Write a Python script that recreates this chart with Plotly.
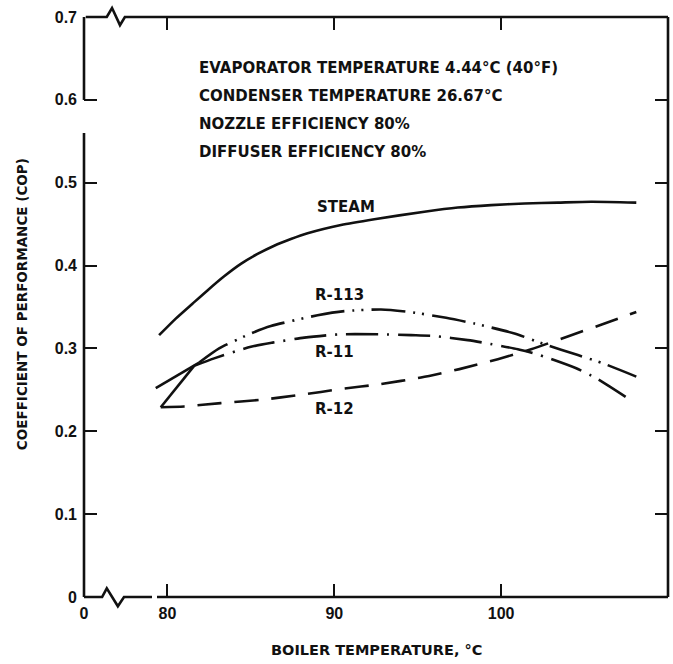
import plotly.graph_objects as go

# Boiler temperature (deg C) against coefficient of performance for each working fluid
STEAM_T = [79.5, 80.5, 81.5, 82.4, 83.4, 84.4, 85.4, 86.4, 87.4, 88.4, 90.4, 92.4, 95.4, 97.4, 99.4, 101.4, 103.4, 105.4, 108.1]
STEAM_COP = [0.316, 0.336, 0.354, 0.370, 0.387, 0.402, 0.414, 0.424, 0.432, 0.439, 0.449, 0.456, 0.465, 0.470, 0.473, 0.475, 0.476, 0.477, 0.476]

R113_T = [79.3, 81.9, 83.1, 85.0, 86.2, 89.0, 90.6, 92.8, 94.5, 96.7, 98.4, 100.8, 102.6, 104.6, 106.1, 108.1]
R113_COP = [0.252, 0.283, 0.300, 0.318, 0.327, 0.340, 0.345, 0.347, 0.344, 0.337, 0.330, 0.318, 0.305, 0.292, 0.282, 0.266]

R11_T = [79.6, 81.6, 82.8, 85.0, 86.3, 88.2, 90.3, 92.8, 94.6, 96.0, 98.0, 99.2, 101.0, 102.3, 104.5, 105.7, 107.8]
R11_COP = [0.229, 0.279, 0.288, 0.302, 0.307, 0.313, 0.317, 0.317, 0.316, 0.315, 0.310, 0.306, 0.299, 0.292, 0.276, 0.264, 0.237]

R12_T = [79.6, 81.0, 83.2, 85.6, 88.0, 90.4, 92.8, 95.2, 97.5, 99.8, 101.8, 104.2, 106.2, 108.1]
R12_COP = [0.229, 0.230, 0.234, 0.238, 0.244, 0.251, 0.257, 0.265, 0.275, 0.287, 0.299, 0.316, 0.330, 0.344]

# Axis ticks; the x axis is broken between 0 and 80
X_TICKS = [75, 80, 90, 100]
X_TICK_TEXT = ["0", "80", "90", "100"]
Y_TICKS = [0, 0.1, 0.2, 0.3, 0.4, 0.5, 0.6, 0.7]
Y_TICK_TEXT = ["0", "0.1", "0.2", "0.3", "0.4", "0.5", "0.6", "0.7"]
X_RANGE = [75, 110]
Y_RANGE = [0, 0.7]

CONDITIONS = [
    "EVAPORATOR TEMPERATURE 4.44°C (40°F)",
    "CONDENSER TEMPERATURE 26.67°C",
    "NOZZLE EFFICIENCY 80%",
    "DIFFUSER EFFICIENCY 80%",
]

INK = "#111111"
FONT = "DejaVu Sans"
LW = 2.6

fig = go.Figure()

# Steam: solid curve
fig.add_trace(go.Scatter(x=STEAM_T, y=STEAM_COP, mode="lines",
                         line=dict(color=INK, width=LW, shape="spline", smoothing=0.6)))

# R-113: solid lead-in, then dash-dot-dot
fig.add_trace(go.Scatter(x=R113_T[:2], y=R113_COP[:2], mode="lines",
                         line=dict(color=INK, width=LW)))
fig.add_trace(go.Scatter(x=R113_T[1:], y=R113_COP[1:], mode="lines",
                         line=dict(color=INK, width=LW, shape="spline", smoothing=0.6,
                                   dash="34px,8px,2px,7px,2px,8px")))

# R-11: solid lead-in, then dash-dot
fig.add_trace(go.Scatter(x=R11_T[:2], y=R11_COP[:2], mode="lines",
                         line=dict(color=INK, width=LW)))
fig.add_trace(go.Scatter(x=R11_T[1:], y=R11_COP[1:], mode="lines",
                         line=dict(color=INK, width=LW, shape="spline", smoothing=0.6,
                                   dash="32px,9px,2px,9px")))

# R-12: dashed
fig.add_trace(go.Scatter(x=R12_T, y=R12_COP, mode="lines",
                         line=dict(color=INK, width=LW, shape="spline", smoothing=0.6,
                                   dash="24px,13px")))

# Frame drawn by hand so the axis breaks can be shown
def seg(pts):
    path = "M " + " L ".join(f"{x},{y}" for x, y in pts)
    return dict(type="path", path=path, xref="x domain", yref="y domain",
                line=dict(color=INK, width=2.6), layer="above")

shapes = [
    # bottom axis with zigzag break
    seg([(0, 0), (0.031, 0), (0.039, 0.015), (0.058, -0.016), (0.0685, 0), (0.1164, 0)]),
    seg([(0.125, 0), (1, 0)]),
    # top axis with zigzag break
    seg([(0.003, 1), (0.039, 1), (0.048, 1.0155), (0.0616, 0.986), (0.070, 1), (1, 1)]),
    # left axis with gap below 0.6
    seg([(0, 0), (0, 0.80)]),
    seg([(0, 0.857), (0, 1)]),
    # right axis
    seg([(1, 0), (1, 1)]),
]

annotations = []
for i, txt in enumerate(CONDITIONS):
    annotations.append(dict(text="<b>" + txt + "</b>", x=0.1935, y=[0.912, 0.864, 0.815, 0.767][i],
                            xref="paper", yref="paper", xanchor="left", yanchor="middle",
                            showarrow=False, font=dict(family=FONT, size=15, color=INK)))

curve_labels = [("STEAM", 0.3955, 0.673), ("R-113", 0.392, 0.520),
                ("R-11", 0.392, 0.423), ("R-12", 0.392, 0.3245)]
for txt, x, y in curve_labels:
    annotations.append(dict(text="<b>" + txt + "</b>", x=x, y=y, xref="paper", yref="paper",
                            xanchor="left", yanchor="middle", showarrow=False,
                            font=dict(family=FONT, size=15, color=INK)))

annotations.append(dict(text="<b>BOILER TEMPERATURE, °C</b>", x=0.5, y=-0.092,
                        xref="paper", yref="paper", xanchor="center", yanchor="middle",
                        showarrow=False, font=dict(family=FONT, size=14.5, color=INK)))
annotations.append(dict(text="<b>COEFFICIENT OF PERFORMANCE (COP)</b>", x=-0.106, y=0.505,
                        xref="paper", yref="paper", xanchor="center", yanchor="middle",
                        textangle=-90, showarrow=False,
                        font=dict(family=FONT, size=13.5, color=INK)))

fig.update_layout(
    width=673, height=664,
    margin=dict(l=84, r=5, t=17, b=67),
    paper_bgcolor="white", plot_bgcolor="white",
    showlegend=False,
    shapes=shapes,
    annotations=annotations,
    xaxis=dict(range=X_RANGE, tickmode="array", tickvals=X_TICKS,
               ticktext=["<b>" + t + "</b>" for t in X_TICK_TEXT],
               ticks="inside", ticklen=13, tickwidth=2, tickcolor=INK, mirror="ticks",
               showline=False, showgrid=False, zeroline=False, ticklabelstandoff=5,
               tickfont=dict(family="Liberation Sans", size=16, color=INK)),
    yaxis=dict(range=Y_RANGE, tickmode="array", tickvals=Y_TICKS,
               ticktext=["<b>" + t + "</b>" for t in Y_TICK_TEXT],
               ticks="inside", ticklen=13, tickwidth=2, tickcolor=INK, mirror="ticks",
               showline=False, showgrid=False, zeroline=False, ticklabelstandoff=6,
               tickfont=dict(family="Liberation Sans", size=16, color=INK)),
)

fig.write_html("out.html")
